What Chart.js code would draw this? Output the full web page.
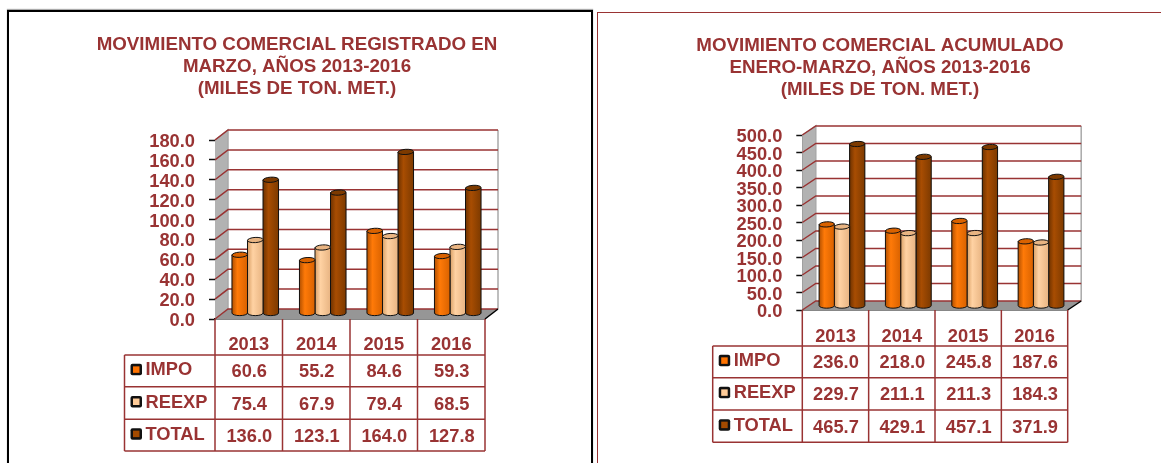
<!DOCTYPE html>
<html>
<head>
<meta charset="utf-8">
<script src="https://cdn.jsdelivr.net/npm/chart.js@4"></script>
<style>
html, body { margin: 0; padding: 0; background: #fff; overflow: hidden; }
canvas { position: absolute; top: 0; }
#frameLeft { position: absolute; left: 7px; top: 10px; width: 582px; height: 470px; border: 2px solid #000; box-shadow: 0 -1px 1px #aaa; }
#frameRight { position: absolute; left: 597px; top: 12px; width: 600px; height: 470px; border: 1px solid #993333; }
</style>
</head>
<body>
<div id="frameLeft"></div>
<div id="frameRight"></div>
<canvas id="chartMarzo" width="594" height="463" style="left:0"></canvas>
<canvas id="chartAcum" width="568" height="463" style="left:596px"></canvas>
<script>
const years = ['2013', '2014', '2015', '2016'];
const seriesNames = ['IMPO', 'REEXP', 'TOTAL'];

// marzo
const impoMarzo = [60.6, 55.2, 84.6, 59.3];
const reexpMarzo = [75.4, 67.9, 79.4, 68.5];
const totalMarzo = [136.0, 123.1, 164.0, 127.8];

// enero-marzo
const impoAcum = [236.0, 218.0, 245.8, 187.6];
const reexpAcum = [229.7, 211.1, 211.3, 184.3];
const totalAcum = [465.7, 429.1, 457.1, 371.9];

const titleMarzo = ['MOVIMIENTO COMERCIAL REGISTRADO EN', 'MARZO, AÑOS 2013-2016', '(MILES DE TON. MET.)'];
const titleAcum = ['MOVIMIENTO COMERCIAL ACUMULADO', 'ENERO-MARZO, AÑOS 2013-2016', '(MILES DE TON. MET.)'];

const RED = '#993333';
const FONT = 'Liberation Sans';
const barColors = ['#ff7300', '#ffcc99', '#a34a00'];
const barShades = [
    ['#b35000', '#ff7a08', '#d96200'],
    ['#d9a066', '#ffd2a3', '#e8b482'],
    ['#6e3200', '#a84d02', '#7d3a00']
];

// paredes, piso y rejilla detras de las barras
const wallsPlugin = {
    id: 'walls',
    beforeDatasetsDraw(chart, args, opts) {
        const c = chart.ctx;
        const y = chart.scales.y;
        const a = chart.chartArea;
        const dx = opts.dx, dy = opts.dy;
        c.save();
        c.fillStyle = '#fff';
        c.fillRect(a.left + dx, a.top + dy, a.width, a.height);

        c.fillStyle = '#b2b2b2';
        c.beginPath();
        c.moveTo(a.left, a.bottom);
        c.lineTo(a.left + dx, a.bottom + dy);
        c.lineTo(a.left + dx, a.top + dy);
        c.lineTo(a.left, a.top);
        c.closePath();
        c.fill();

        c.fillStyle = '#969696';
        c.beginPath();
        c.moveTo(a.left, a.bottom);
        c.lineTo(a.left + dx, a.bottom + dy);
        c.lineTo(a.right + dx, a.bottom + dy);
        c.lineTo(a.right, a.bottom);
        c.closePath();
        c.fill();

        c.strokeStyle = '#a9a9a9';
        c.lineWidth = 1.5;
        c.beginPath();
        c.moveTo(a.left, a.top);
        c.lineTo(a.left + dx, a.top + dy);
        c.lineTo(a.left + dx, a.bottom + dy);
        c.moveTo(a.right + dx, a.top + dy);
        c.lineTo(a.right + dx, a.bottom + dy);
        c.stroke();

        c.strokeStyle = RED;
        y.ticks.forEach((t, i) => {
            const py = y.getPixelForTick(i);
            c.beginPath();
            c.moveTo(a.left, py);
            c.lineTo(a.left + dx, py + dy);
            c.lineTo(a.right + dx, py + dy);
            c.stroke();
        });

        c.strokeStyle = '#000';
        c.beginPath();
        c.moveTo(a.right, a.bottom);
        c.lineTo(a.right + dx, a.bottom + dy);
        c.stroke();
        c.restore();

        // las barras van a media profundidad
        c.save();
        c.translate(opts.barDx, opts.barDy);
    },
    afterDatasetDraw(chart, args) {
        // cilindro sobre cada barra
        const c = chart.ctx;
        const meta = args.meta;
        const shade = barShades[args.index];
        meta.data.forEach(el => {
            const w = el.width, l = el.x - w / 2, r = el.x + w / 2;
            const ry = 2.6;
            const g = c.createLinearGradient(l, 0, r, 0);
            g.addColorStop(0, shade[0]);
            g.addColorStop(0.35, shade[1]);
            g.addColorStop(1, shade[2]);
            c.save();
            c.fillStyle = g;
            c.strokeStyle = '#111';
            c.lineWidth = 1;
            c.beginPath();
            c.moveTo(l, el.y);
            c.lineTo(l, el.base);
            c.ellipse(el.x, el.base, w / 2, ry, 0, Math.PI, 0, true);
            c.lineTo(r, el.y);
            c.closePath();
            c.fill();
            c.stroke();
            c.fillStyle = shade[2];
            c.beginPath();
            c.ellipse(el.x, el.y, w / 2, ry, -0.06, 0, Math.PI * 2);
            c.fill();
            c.stroke();
            c.restore();
        });
    },
    afterDatasetsDraw(chart) {
        chart.ctx.restore();
    }
};

// tabla de datos bajo el eje
const tablePlugin = {
    id: 'dataTable',
    afterDraw(chart, args, opts) {
        const c = chart.ctx;
        const x = chart.scales.x;
        const a = chart.chartArea;
        const rows = opts.rows;
        const top = rows[0], bottom = rows[rows.length - 1];
        const colW = a.width / years.length;
        c.save();
        c.strokeStyle = RED;
        c.lineWidth = 1.5;
        for (let i = 0; i <= years.length; i++) {
            c.beginPath();
            c.moveTo(a.left + colW * i, a.bottom);
            c.lineTo(a.left + colW * i, bottom);
            c.stroke();
        }
        rows.forEach(ry => {
            c.beginPath();
            c.moveTo(opts.left, ry);
            c.lineTo(a.right, ry);
            c.stroke();
        });
        c.beginPath();
        c.moveTo(opts.left, top);
        c.lineTo(opts.left, bottom);
        c.stroke();

        c.font = 'bold 18.3px "' + FONT + '"';
        c.fillStyle = RED;
        c.textBaseline = 'middle';
        chart.data.datasets.forEach((ds, r) => {
            const mid = (rows[r] + rows[r + 1]) / 2;
            c.textAlign = 'left';
            c.fillStyle = RED;
            c.fillText(seriesNames[r], opts.left + 21, mid - 0.5);
            ds.data.forEach((v, i) => {
                c.textAlign = 'center';
                c.fillText(v.toFixed(1), x.getPixelForTick(i) + 0.5, mid + 1.5);
            });
            c.fillStyle = '#111';
            c.beginPath();
            c.roundRect(opts.left + 6, mid - 7, 11.5, 11.5, 2);
            c.fill();
            c.fillStyle = barColors[r];
            c.fillRect(opts.left + 8.5, mid - 4.5, 6.5, 6.5);
        });
        c.restore();
    }
};

function makeChart(id, conf) {
    const chart = new Chart(document.getElementById(id), {
        type: 'bar',
        data: {
            labels: years,
            datasets: conf.series.map((vals, i) => ({
                label: seriesNames[i],
                data: vals,
                backgroundColor: barColors[i],
                base: conf.barBase,
                categoryPercentage: 0.69,
                barPercentage: 1
            }))
        },
        plugins: [wallsPlugin, tablePlugin],
        options: {
            responsive: false,
            animation: false,
            plugins: {
                legend: { display: false },
                tooltip: { enabled: false },
                title: {
                    display: true,
                    text: conf.title,
                    color: RED,
                    font: { family: FONT, size: 18.75, weight: 'bold', lineHeight: 22 / 18.75 },
                    padding: { top: conf.titleTop, bottom: conf.titleBottom }
                },
                walls: { dx: conf.dx, dy: conf.dy, barDx: conf.barDx, barDy: conf.barDy },
                dataTable: { left: conf.tableLeft, rows: conf.rows }
            },
            scales: {
                x: {
                    afterFit(scale) { scale.height = conf.xHeight; },
                    grid: { display: false, drawTicks: false },
                    border: { display: true, color: '#111', width: 1.5 },
                    ticks: {
                        color: RED,
                        padding: conf.xPad,
                        maxRotation: 0,
                        font: { family: FONT, size: 18.3, weight: 'bold' }
                    }
                },
                y: {
                    min: 0,
                    max: conf.max,
                    afterFit(scale) { scale.width = conf.yWidth; },
                    grid: { color: 'transparent', tickColor: '#111', tickLength: 6, tickWidth: 1.5 },
                    border: { display: true, color: '#777', width: 1 },
                    ticks: {
                        stepSize: conf.step,
                        autoSkip: false,
                        color: RED,
                        padding: 14,
                        callback: v => v.toFixed(1),
                        font: { family: FONT, size: 18.3, weight: 'bold' }
                    }
                },
                // eje vacio, solo reserva el margen derecho sin apretar el titulo
                margen: {
                    position: 'right',
                    afterFit(scale) { scale.width = conf.rightWidth; },
                    grid: { display: false, drawTicks: false },
                    border: { display: false },
                    ticks: { display: false }
                }
            }
        }
    });

    // etiquetas del eje y un poco mas abajo
    const yScale = chart.scales.y;
    const drawLabels = yScale.drawLabels;
    yScale.drawLabels = function (area) {
        chart.ctx.save();
        chart.ctx.translate(0, 2);
        drawLabels.call(yScale, area);
        chart.ctx.restore();
    };
    chart.draw();
    return chart;
}

makeChart('chartMarzo', {
    series: [impoMarzo, reexpMarzo, totalMarzo],
    title: titleMarzo,
    titleTop: 33.5, titleBottom: 40.5,
    yWidth: 215, rightWidth: 109, xHeight: 144, xPad: 15,
    max: 180, step: 20, barBase: 2,
    dx: 13, dy: -10, barDx: 6.5, barDy: -4,
    tableLeft: 124.5,
    rows: [355, 386.7, 419.3, 451]
});

makeChart('chartAcum', {
    series: [impoAcum, reexpAcum, totalAcum],
    title: titleAcum,
    titleTop: 35, titleBottom: 34,
    yWidth: 206.3, rightWidth: 96.3, xHeight: 153, xPad: 16,
    max: 500, step: 50, barBase: 4,
    dx: 13.5, dy: -9, barDx: 6.5, barDy: -3,
    tableLeft: 116.7,
    rows: [346, 377.7, 410, 442.3]
});
</script>
</body>
</html>
